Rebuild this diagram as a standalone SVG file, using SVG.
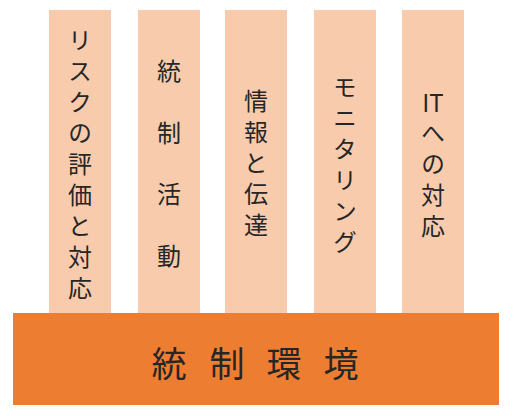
<svg xmlns="http://www.w3.org/2000/svg" width="514" height="416" viewBox="0 0 514 416">
<style>
.pillar{fill:#F8CBAD;}
.base{fill:#ED7D31;}
.v{font-family:"Noto Sans CJK JP","Noto Sans",sans-serif;font-size:24px;fill:#262626;writing-mode:vertical-rl;text-anchor:start;letter-spacing:7px;}
.h{font-family:"Noto Sans CJK JP","Noto Sans",sans-serif;font-size:24px;fill:#262626;text-anchor:middle;dominant-baseline:central;}
.tb{font-family:"Noto Sans CJK JP","Noto Sans",sans-serif;font-size:35px;fill:#262626;text-anchor:middle;dominant-baseline:central;}
</style>
<rect width="514" height="416" fill="#FFFFFF"/>
<g id="risk">
<rect class="pillar" x="49" y="10" width="62" height="304"/>
<text class="v" x="80" y="28">リスクの評価と対応</text>
</g>
<g id="control-activities">
<rect class="pillar" x="138" y="10" width="62" height="304"/>
<text class="v" x="169" y="59" style="letter-spacing:37.5px">統制活動</text>
</g>
<g id="information">
<rect class="pillar" x="225" y="10" width="62" height="304"/>
<text class="v" x="256" y="89">情報と伝達</text>
</g>
<g id="monitoring">
<rect class="pillar" x="314" y="10" width="62" height="304"/>
<text class="v" x="345" y="75">モニタリング</text>
</g>
<g id="it">
<rect class="pillar" x="402" y="10" width="62" height="304"/>
<text class="h" x="433" y="101">IT</text>
<text class="v" x="433" y="121">への対応</text>
</g>
<g id="control-environment">
<rect class="base" x="13" y="313" width="486" height="92"/>
<text class="tb"><tspan x="169" y="361">統</tspan><tspan x="227" y="361">制</tspan><tspan x="284" y="361">環</tspan><tspan x="341" y="361">境</tspan></text>
</g>
<g id="connectors"/>
</svg>
